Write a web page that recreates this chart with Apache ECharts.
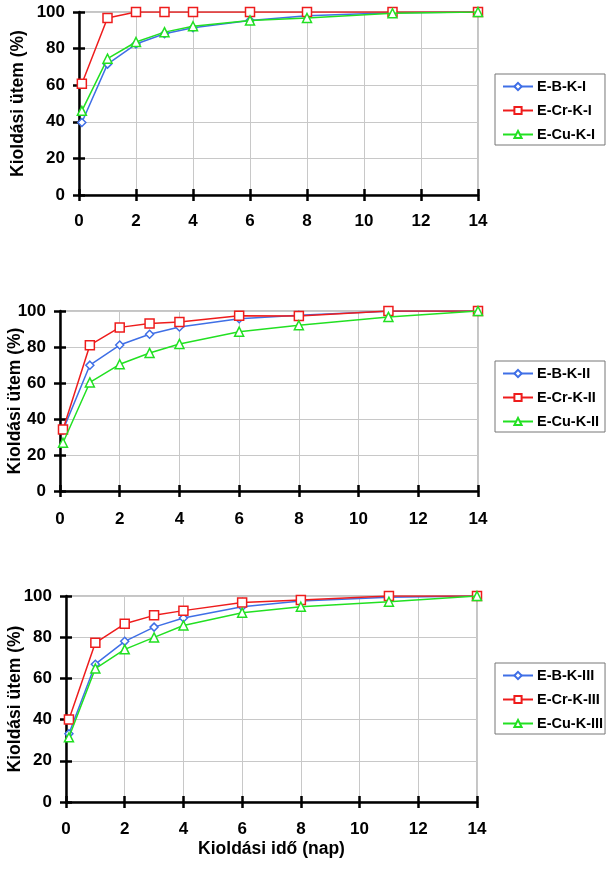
<!DOCTYPE html>
<html><head><meta charset="utf-8">
<script src="https://cdn.jsdelivr.net/npm/echarts@6/dist/echarts.min.js"></script>
<style>html,body{margin:0;padding:0;background:#fff}#c{width:610px;height:874px}</style>
</head><body><div id="c"></div>
<script>
const days = [0.1, 1, 2, 3, 4, 6, 8, 11, 14];
const xTicks = [0, 2, 4, 6, 8, 10, 12, 14];
const yTicks = [0, 20, 40, 60, 80, 100];
const yName = 'Kioldási ütem (%)';
const xName = 'Kioldási idő (nap)';

const namesI = ['E-B-K-I', 'E-Cr-K-I', 'E-Cu-K-I'];
const bI  = [39.6, 71.5, 82.5, 88.1, 91.4, 95.4, 98.0, 99.6, 100];
const crI = [60.8, 96.7, 100, 100, 100, 100, 100, 100, 100];
const cuI = [46.0, 74.5, 83.6, 89.0, 92.2, 95.4, 96.7, 99.3, 100];

const namesII = ['E-B-K-II', 'E-Cr-K-II', 'E-Cu-K-II'];
const bII  = [33.8, 69.9, 81.1, 87.1, 91.1, 95.7, 97.6, 99.8, 100];
const crII = [34.2, 81.0, 90.9, 93.0, 93.9, 97.4, 97.2, 100, 100];
const cuII = [26.8, 60.3, 70.4, 76.7, 81.7, 88.5, 92.1, 96.7, 100];

const namesIII = ['E-B-K-III', 'E-Cr-K-III', 'E-Cu-K-III'];
const bIII  = [33.1, 66.9, 78.0, 84.9, 89.3, 94.8, 97.6, 99.4, 100];
const crIII = [40.0, 77.3, 86.5, 90.6, 92.9, 96.8, 98.1, 100, 100];
const cuIII = [31.4, 64.8, 74.1, 79.9, 85.7, 91.9, 94.8, 97.2, 100];

const colors = ['#3f6fe6', '#ee1c1c', '#22e022'];
const symbols = ['diamond', 'rect', 'triangle'];
const symSizes = [8, 9, 9];
const FONT = 'Liberation Sans, Arial, sans-serif';

const panels = [
  {names: namesI, data: [bI, crI, cuI], grid: {left: 79, top: 12, width: 399, height: 183}, yGap: 52, xMargin: 18, legendTop: 74, legendPadR: 10, xName: false},
  {names: namesII, data: [bII, crII, cuII], grid: {left: 60, top: 311, width: 418, height: 180}, yGap: 36, xMargin: 20, legendTop: 361, legendPadR: 6, xName: false},
  {names: namesIII, data: [bIII, crIII, cuIII], grid: {left: 66, top: 596, width: 411, height: 206}, yGap: 42, xMargin: 19, legendTop: 663, legendPadR: 2, xName: true}
];

const grid = [], xAxis = [], yAxis = [], series = [], legend = [];
const lbl = {color: '#000', fontFamily: FONT, fontWeight: 'bold', fontSize: 17};
const nameStyle = {color: '#000', fontFamily: FONT, fontWeight: 'bold', fontSize: 17.5};
panels.forEach((p, gi) => {
  grid.push(Object.assign({show: true, borderColor: '#8a8a8a', borderWidth: 1, containLabel: false, outerBoundsMode: 'none'}, p.grid));
  xAxis.push({type: 'value', gridIndex: gi, min: 0, max: 14, interval: 2,
    axisLine: {onZero: false, lineStyle: {color: '#000', width: 2.5}},
    axisTick: {show: true, length: 6, lineStyle: {color: '#000', width: 2.5}},
    axisLabel: Object.assign({margin: p.xMargin}, lbl),
    splitLine: {show: true, lineStyle: {color: '#c8c8c8', width: 1}},
    name: p.xName ? xName : '', nameLocation: 'middle', nameGap: 38, nameMoveOverlap: false,
    nameTextStyle: nameStyle
  });
  xAxis.push({type: 'value', gridIndex: gi, min: 0, max: 14, interval: 2, position: 'bottom',
    axisLine: {show: false, onZero: false}, axisLabel: {show: false}, splitLine: {show: false},
    axisTick: {show: true, inside: true, length: 6, lineStyle: {color: '#000', width: 2.5}}
  });
  yAxis.push({type: 'value', gridIndex: gi, min: 0, max: 100, interval: 20,
    axisLine: {show: true, onZero: false, lineStyle: {color: '#000', width: 2.5}},
    axisTick: {show: true, length: 6, lineStyle: {color: '#000', width: 2.5}},
    axisLabel: Object.assign({margin: 14}, lbl),
    splitLine: {show: true, lineStyle: {color: '#c8c8c8', width: 1}},
    name: yName, nameLocation: 'middle', nameGap: p.yGap, nameRotate: 90, nameMoveOverlap: false,
    nameTextStyle: nameStyle
  });
  yAxis.push({type: 'value', gridIndex: gi, min: 0, max: 100, interval: 20, position: 'left',
    axisLine: {show: false, onZero: false}, axisLabel: {show: false}, splitLine: {show: false},
    axisTick: {show: true, inside: true, length: 6, lineStyle: {color: '#000', width: 2.5}}
  });
  p.names.forEach((n, si) => {
    series.push({type: 'line', name: n, xAxisIndex: gi * 2, yAxisIndex: gi * 2,
      data: days.map((d, k) => [d, p.data[si][k]]),
      symbol: symbols[si], symbolSize: symSizes[si], showAllSymbol: true,
      lineStyle: {color: colors[si], width: 1.5},
      itemStyle: {color: '#fff', borderColor: colors[si], borderWidth: 1.5},
      z: 3 + (si === 1 ? 0 : si)
    });
  });
  legend.push({data: p.names, orient: 'vertical', left: 495, top: p.legendTop,
    backgroundColor: '#fff', borderColor: '#777', borderWidth: 1,
    padding: [5, p.legendPadR, 3, 7], itemGap: 9, itemWidth: 30, itemHeight: 9,
    textStyle: {color: '#000', fontFamily: FONT, fontWeight: 'bold', fontSize: 14.5, padding: [0, 0, 0, -1]}
  });
});

const chart = echarts.init(document.getElementById('c'), null, {renderer: 'canvas'});
chart.setOption({animation: false, backgroundColor: '#fff', grid, xAxis, yAxis, series, legend});
</script></body></html>
